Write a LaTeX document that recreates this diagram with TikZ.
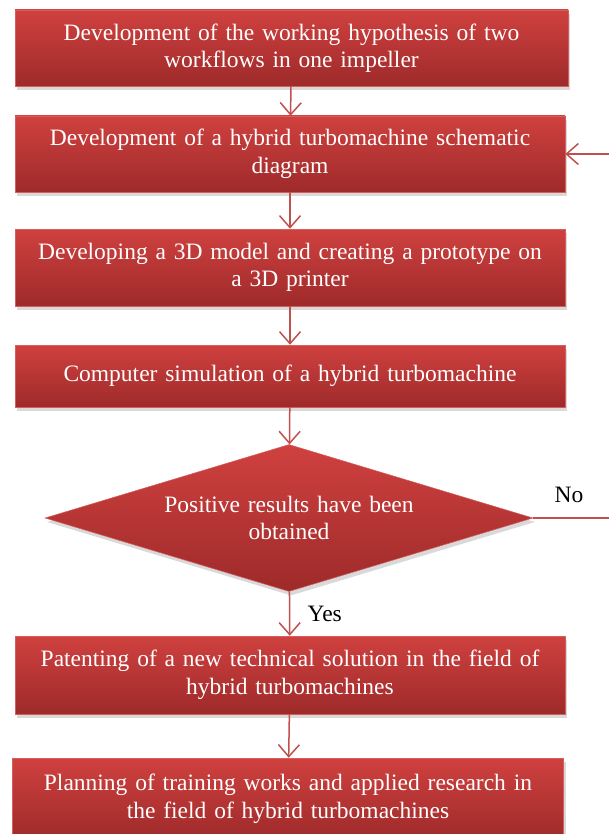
\documentclass[tikz,border=0pt]{standalone}
\usepackage{fontspec}
\setmainfont{Liberation Serif}
\usetikzlibrary{arrows.meta,shapes.geometric,shadows}
\definecolor{boxtop}{RGB}{207,65,63}
\definecolor{boxbot}{RGB}{158,42,42}
\definecolor{flow}{RGB}{192,80,77}

\begin{document}
\begin{tikzpicture}[x=1pt,y=1pt,
        box/.style = {rectangle, draw=boxtop!85!white, line width=0.5pt,
            top color=boxtop, bottom color=boxbot, text=white, align=center,
            inner sep=0pt, font=\fontsize{23.5}{27.5}\selectfont,
            drop shadow={opacity=0.3, shadow xshift=2pt, shadow yshift=-4pt}},
        step box/.style = {box, text width=550pt, minimum height=76pt},
        decision/.style = {box, diamond, text width=270pt, shape aspect=3.3,
            minimum width=488pt, minimum height=147pt},
        flow/.style = {draw=flow, line width=1.5pt,
            -{Straight Barb[length=12pt, width=21pt, line width=1.5pt]}},
        lbl/.style = {font=\fontsize{23.5}{27.5}\selectfont}]
        \useasboundingbox (0,0) rectangle (608,-834);

        \node[step box, text width=553pt] (0) at (291.5,-48) {Development of the working hypothesis of two\\workflows in one impeller};
        \node[step box] (1) at (290,-154) {Development of a hybrid turbomachine schematic\\diagram};
        \node[step box, minimum height=77pt] (2) at (290,-267.5) {Developing a 3D model and creating a prototype on\\a 3D printer};
        \node[step box, minimum height=62pt] (3) at (290,-376) {Computer simulation of a hybrid turbomachine};
        \node[decision] (4) at (289,-518) {Positive results have been\\obtained};
        \node[step box, minimum height=78pt] (5) at (290,-675) {Patenting of a new technical solution in the field of\\hybrid turbomachines};
        \node[step box, text width=551pt, minimum height=82pt] (6) at (288,-799) {Planning of training works and applied research in\\the field of hybrid turbomachines};

        \coordinate (back) at (625,-518);

        \draw[flow] (0) -- (1);
        \draw[flow] (1) -- (2);
        \draw[flow] (2) -- (3);
        \draw[flow] (3) -- (4);
        \draw[flow] (4) -- node[lbl, pos=0.5, right=14pt] {Yes} (5);
        \draw[flow] (5) -- (6);
        \draw[flow] (4.east) -- (back) |- (1.east);
        \node[lbl, anchor=south west] (no) at (551,-506) {No};
\end{tikzpicture}
\end{document}
